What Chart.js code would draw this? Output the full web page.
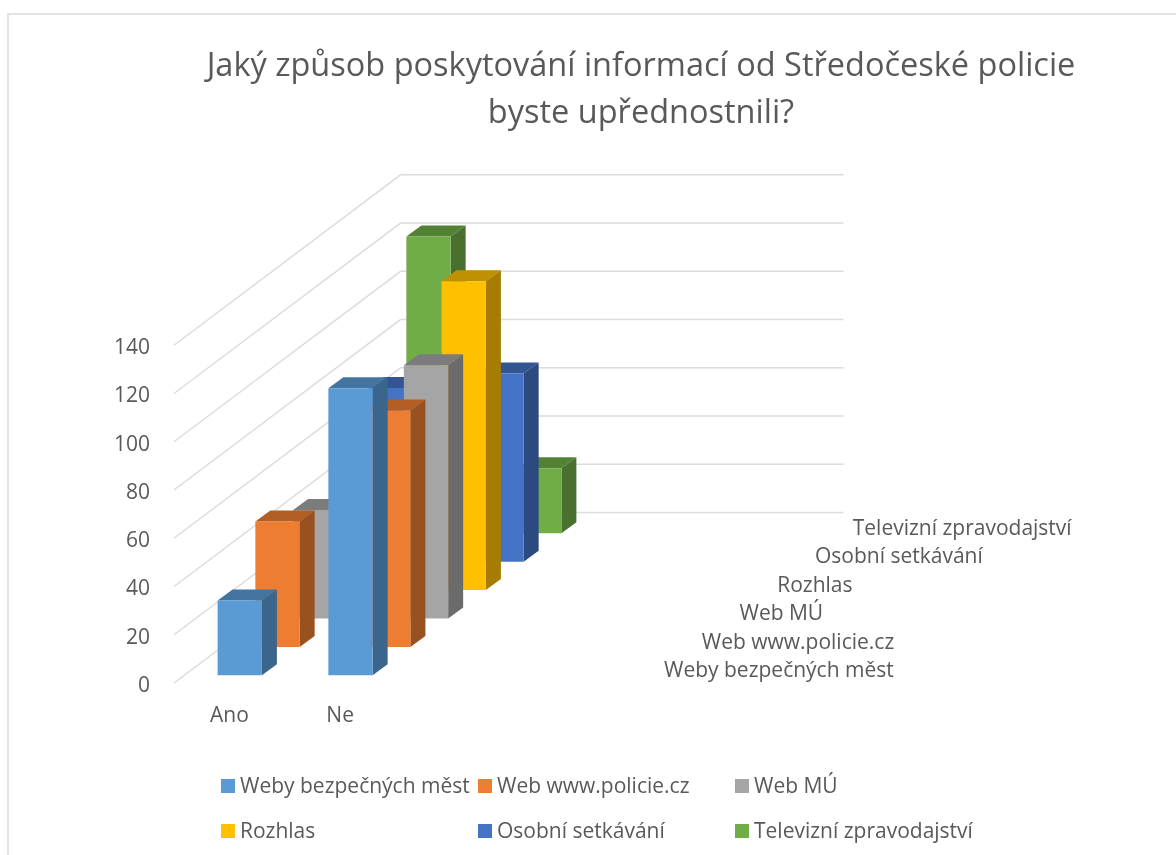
<!DOCTYPE html>
<html lang="cs">
<head>
<meta charset="utf-8">
<title>Středočeská policie</title>
<script src="https://cdn.jsdelivr.net/npm/chart.js@4/dist/chart.umd.min.js"></script>
<style>
    html, body { margin: 0; background: #fff; overflow: hidden; }
    #frame { position: absolute; left: 7px; top: 13px; right: 0; bottom: 0; border-left: 2px solid #e2e2e2; border-top: 2px solid #e2e2e2; }
    canvas { position: absolute; left: 0; top: 0; }
</style>
</head>
<body>
<div id="frame"></div>
<canvas id="chart" width="1176" height="855"></canvas>
<script>
const titleLines = ['Jaký způsob poskytování informací od Středočeské policie', 'byste upřednostnili?'];
const categories = ['Ano', 'Ne', '', ''];
const seriesNames = ['Weby bezpečných měst', 'Web www.policie.cz', 'Web MÚ', 'Rozhlas', 'Osobní setkávání', 'Televizní zpravodajství'];
const seriesColors = ['#5B9BD5', '#ED7D31', '#A5A5A5', '#FFC000', '#4472C4', '#70AD47'];
const webyMest = [31, 119, null, null];
const webPolicie = [52, 98, null, null];
const webMu = [45, 105, null, null];
const rozhlas = [22, 128, null, null];
const osobni = [72, 78, null, null];
const televize = [123, 27, null, null];
const seriesValues = [webyMest, webPolicie, webMu, rozhlas, osobni, televize];

const textColor = '#595959';
const fontFamily = '"Open Sans", sans-serif';
const labelSize = 21;
const slotX = 37.75;    // posun jedne rady do hloubky
const slotY = -28.4;
const barDepthX = 15;
const barDepthY = -11;

function shade(hex, factor) {
    const n = parseInt(hex.slice(1), 16);
    const r = Math.round((n >> 16) * factor);
    const g = Math.round(((n >> 8) & 255) * factor);
    const b = Math.round((n & 255) * factor);
    return `rgb(${r}, ${g}, ${b})`;
}

function polygon(ctx, color, points) {
    ctx.fillStyle = color;
    ctx.beginPath();
    points.forEach(([x, y], i) => i ? ctx.lineTo(x, y) : ctx.moveTo(x, y));
    ctx.closePath();
    ctx.fill();
}

const walls3d = {
    id: 'walls3d',
    afterLayout(chart) {
        // nadpis je v originale vystredeny mimo graf
        chart.titleBlock.left = 106;
        chart.titleBlock.right = 1176;
    },
    beforeDatasetsDraw(chart) {
        const { ctx, scales: { x, y } } = chart;
        const depthX = slotX * seriesNames.length;
        const depthY = slotY * seriesNames.length;
        ctx.save();
        ctx.strokeStyle = '#dcdcdc';
        ctx.lineWidth = 1.5;
        y.ticks.forEach(tick => {
            const py = y.getPixelForValue(tick.value);
            ctx.beginPath();
            ctx.moveTo(x.left, py);
            ctx.lineTo(x.left + depthX, py + depthY);
            ctx.lineTo(x.right + depthX, py + depthY);
            ctx.stroke();
        });
        ctx.restore();
    },
    beforeDatasetDraw(chart, args) {
        const { ctx } = chart;
        const i = args.index;
        ctx.save();
        // kazda rada je posunuta do sve hloubky
        ctx.translate((slotX - barDepthX) / 2 - 1 + slotX * i, (slotY - barDepthY) / 2 + 1 + slotY * i);
        const color = seriesColors[i];
        args.meta.data.forEach((bar, k) => {
            if (seriesValues[i][k] === null) return;
            const { x, y, base, width } = bar.getProps(['x', 'y', 'base', 'width'], true);
            const l = x - width / 2;
            const r = x + width / 2;
            polygon(ctx, shade(color, 0.75), [[l, y], [r, y], [r + barDepthX, y + barDepthY], [l + barDepthX, y + barDepthY]]);
            polygon(ctx, shade(color, 0.65), [[r, y], [r + barDepthX, y + barDepthY], [r + barDepthX, base + barDepthY], [r, base]]);
        });
    },
    afterDatasetDraw(chart) {
        chart.ctx.restore();
    },
    afterDraw(chart) {
        const { ctx, scales: { x, y } } = chart;
        ctx.save();
        ctx.font = `${labelSize}px ${fontFamily}`;
        ctx.fillStyle = textColor;
        ctx.textBaseline = 'middle';
        ctx.textAlign = 'left';
        // popisky hloubkove osy
        seriesNames.forEach((name, i) => {
            ctx.fillText(name, x.right + 47 + slotX * i, y.bottom - 12 + slotY * i);
        });
        // legenda: tri sloupce, dva radky
        seriesNames.forEach((name, i) => {
            const lx = 221 + 257 * (i % 3);
            const ly = 786 + 45 * Math.floor(i / 3);
            ctx.fillStyle = seriesColors[i];
            ctx.fillRect(lx, ly - 7, 14, 14);
            ctx.fillStyle = textColor;
            ctx.fillText(name, lx + 19, ly + 1);
        });
        ctx.restore();
    }
};

const datasets = seriesNames.map((name, i) => ({
    label: name,
    data: seriesValues[i],
    backgroundColor: seriesColors[i],
    grouped: false,
    barPercentage: 0.4,
    categoryPercentage: 1,
    clip: false
}));

new Chart(document.getElementById('chart').getContext('2d'), {
    type: 'bar',
    data: { labels: categories, datasets: datasets },
    plugins: [walls3d],
    options: {
        responsive: false,
        animation: false,
        layout: { padding: { left: 106, right: 559, top: 0, bottom: 0 } },
        plugins: {
            legend: { display: false },
            tooltip: { enabled: false },
            title: {
                display: true,
                text: titleLines,
                color: textColor,
                font: { family: fontFamily, size: 32.5, weight: 'normal', lineHeight: 1.45 },
                padding: { top: 43.5, bottom: 207.5 }
            }
        },
        scales: {
            x: {
                grid: { display: false, drawTicks: false },
                border: { display: false },
                afterFit: scale => { scale.height = 172; },
                ticks: { color: textColor, font: { family: fontFamily, size: labelSize }, padding: 20, autoSkip: false, maxRotation: 0 }
            },
            y: {
                min: 0,
                max: 140,
                grid: { display: false, drawTicks: false },
                border: { display: false },
                afterFit: scale => { scale.width = 68; },
                ticks: { stepSize: 20, color: textColor, font: { family: fontFamily, size: labelSize }, padding: 24, labelOffset: 3 }
            }
        }
    }
});
</script>
</body>
</html>
